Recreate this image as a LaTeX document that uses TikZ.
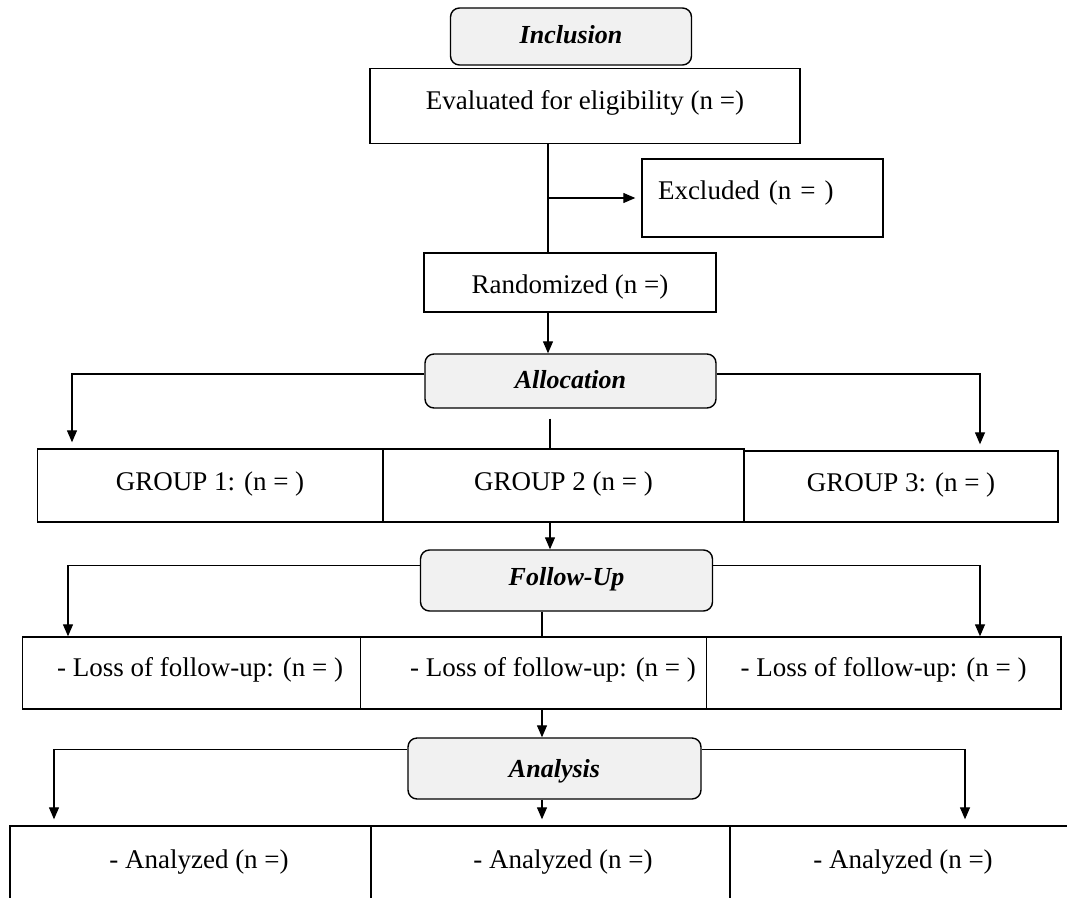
\documentclass[tikz,border=0pt]{standalone}
\usepackage{fontspec}
\setmainfont{Liberation Serif}
\usetikzlibrary{arrows.meta}
\definecolor{catfill}{RGB}{241,241,241}
\tikzset{
  box/.style={draw, line width=1.4pt, rectangle, inner sep=0pt, font=\fontsize{27}{32}\selectfont, text depth=0pt},
  cat/.style={draw, line width=1.4pt, rounded corners=9pt, fill=catfill, inner sep=0pt, font=\fontsize{26}{31}\selectfont\bfseries\itshape, text depth=0pt},
  bl/.style={text height=#1},
  conn/.style={line width=1.3pt},
  arr/.style={conn, -{Triangle[length=12pt,width=10pt]}}
}
\begin{document}
\begin{tikzpicture}[x=1pt,y=-1pt]
\useasboundingbox (0,0) rectangle (1067,897);
\clip (0,0) rectangle (1067,897);
% stage headers and boxes
\node[cat, minimum width=241pt, minimum height=57pt, bl=13pt] (incl) at (571,36.5) {Inclusion};
\node[box, minimum width=430pt, minimum height=75pt, bl=7pt] (eval) at (585,106) {Evaluated for eligibility (n =)};
\node[box, minimum height=78pt, text width=209pt, inner xsep=16pt, align=left, bl=3pt] (excl) at (762.5,198) {Excluded (n = )};
\node[box, minimum width=292pt, minimum height=59pt, bl=21pt] (rand) at (570,282.5) {Randomized (n =)};
\node[cat, minimum width=291pt, minimum height=54pt, bl=15pt] (alloc) at (570.5,381) {Allocation};
\node[box, minimum width=345.5pt, minimum height=73pt, bl=9pt] (g1) at (210,485.5) {GROUP 1: (n = )};
\node[box, minimum width=361pt, minimum height=73pt, bl=9pt] (g2) at (563.5,485.5) {GROUP 2 (n = )};
\node[box, minimum width=314pt, minimum height=71pt, bl=9pt] (g3) at (901,486.5) {GROUP 3: (n = )};
\node[cat, minimum width=292pt, minimum height=61pt, bl=9pt] (fu) at (566.5,580.5) {Follow-Up};
\node[box, minimum width=338pt, minimum height=72pt, bl=7pt] (l1) at (191.6,673) {\hspace*{17pt}- Loss of follow-up: (n = )};
\node[box, minimum width=345.7pt, minimum height=72pt, bl=7pt] (l2) at (533.5,673) {\hspace*{39pt}- Loss of follow-up: (n = )};
\node[box, minimum width=354.6pt, minimum height=72pt, bl=7pt] (l3) at (883.7,673) {- Loss of follow-up: (n = )};
\node[cat, minimum width=293pt, minimum height=61pt, bl=17pt] (an) at (554.5,768.5) {Analysis};
\node[box, minimum width=361pt, minimum height=100pt, bl=0pt, text depth=16pt] (a1) at (190.5,876) {\hspace*{17pt}- Analyzed (n =)};
\node[box, minimum width=359pt, minimum height=100pt, bl=0pt, text depth=16pt] (a2) at (550.5,876) {\hspace*{25pt}- Analyzed (n =)};
\node[box, minimum width=360pt, minimum height=100pt, bl=0pt, text depth=16pt] (a3) at (910,876) {- Analyzed (n =)\hspace*{14pt}};
% connector columns
\coordinate (xA) at (548,0);
\coordinate (xB) at (550,0);
\coordinate (xC) at (542,0);
\coordinate (xL1) at (72,0);
\coordinate (xR1) at (980,0);
\coordinate (xL2) at (68,0);
\coordinate (xL3) at (54,0);
\coordinate (xR3) at (965,0);
% connectors
\draw[conn] (eval.south -| xA) -- (rand.north -| xA);
\draw[arr, shorten >=6pt] (excl.west -| xA) -- (excl.west);
\draw[arr] (rand.south -| xA) -- (alloc.north -| xA);
\draw[arr, shorten >=6pt] ([yshift=7pt]alloc.west) -| (g1.north -| xL1);
\draw[arr, shorten >=6pt] ([yshift=7pt]alloc.east) -| (g3.north -| xR1);
\draw[conn] ([yshift=-10pt]alloc.south -| xB) -- (g2.north -| xB);
\draw[arr] (g2.south -| xB) -- (fu.north -| xB);
\draw[arr] ([yshift=15pt]fu.west) -| (l1.north -| xL2);
\draw[arr] ([yshift=15pt]fu.east) -| (l3.north -| xR1);
\draw[conn] (fu.south -| xC) -- (l2.north -| xC);
\draw[arr] (l2.south -| xC) -- (an.north -| xC);
\draw[arr, shorten >=6pt] ([yshift=19pt]an.west) -| (a1.north -| xL3);
\draw[arr, shorten >=6pt] ([yshift=19pt]an.east) -| (a3.north -| xR3);
\draw[arr, shorten >=6pt] (an.south -| xC) -- (a2.north -| xC);
\end{tikzpicture}
\end{document}
